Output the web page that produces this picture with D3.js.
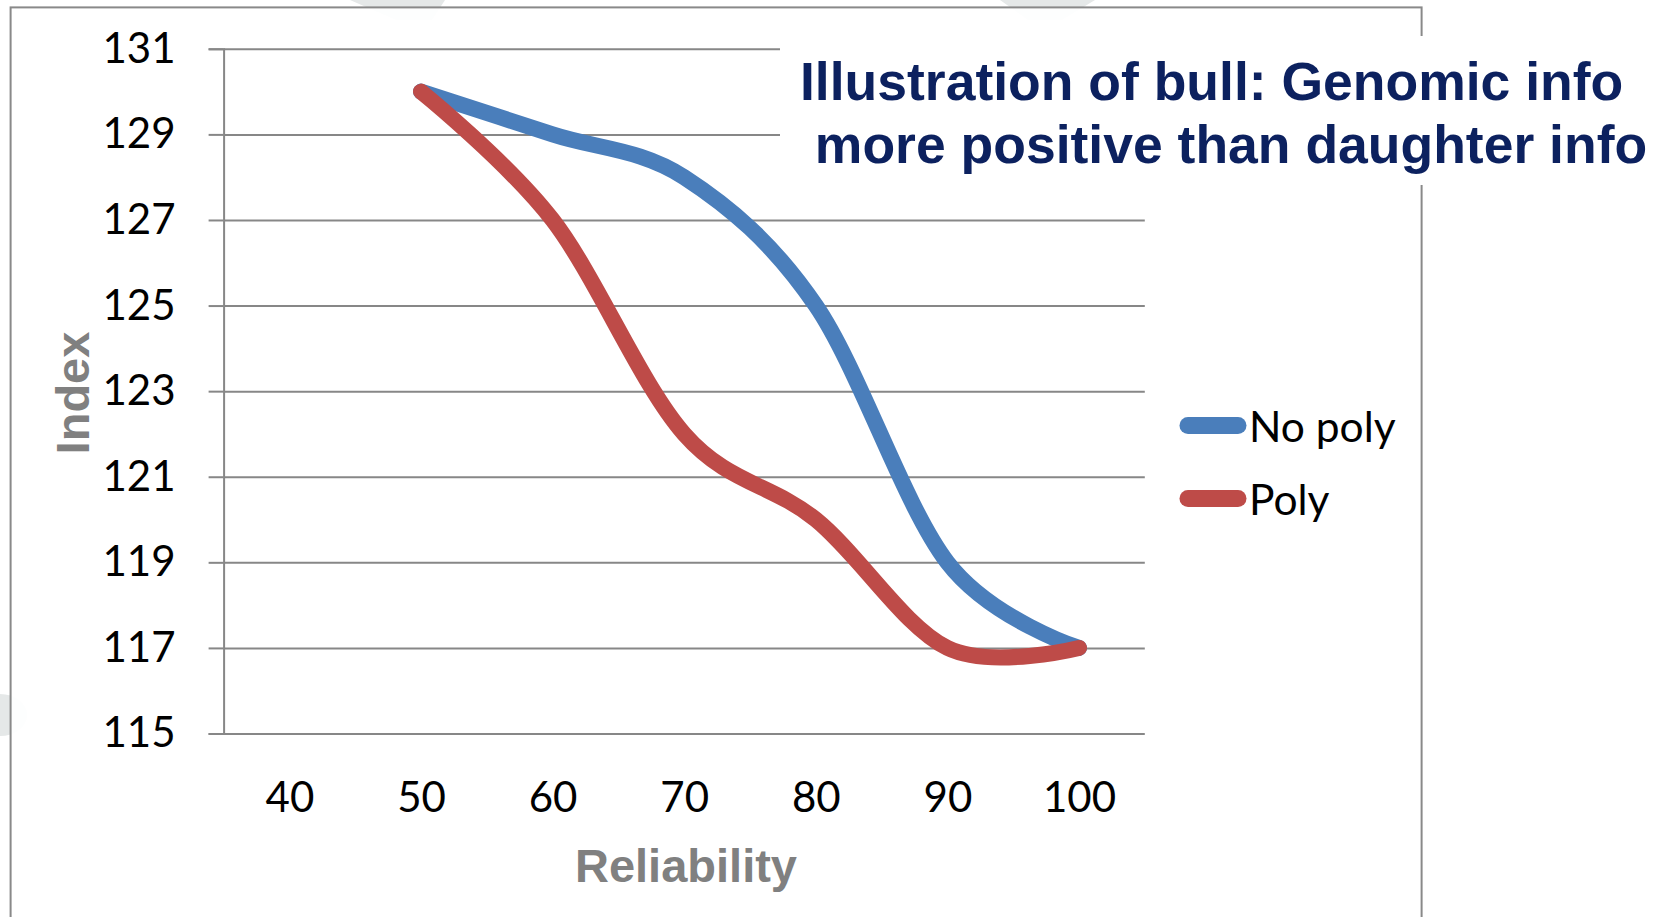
<!DOCTYPE html>
<html>
<head>
<meta charset="utf-8">
<script src="https://cdn.jsdelivr.net/npm/d3@7/dist/d3.min.js"></script>
<style>
  html, body { margin: 0; padding: 0; background: #ffffff; }
  svg { display: block; }
</style>
</head>
<body>
<svg id="chart" width="1662" height="917"></svg>
<script>
// Reliability categories on the x axis (40 carries no data)
const categories = ["40", "50", "60", "70", "80", "90", "100"];
// Index values per series, one per category from 50 to 100
const seriesNames = ["No poly", "Poly"];
const noPolyValues = [null, 130, 129, 128, 125, 119, 117];
const polyValues   = [null, 130, 127, 122, 120, 117, 117];
const yTicks = [115, 117, 119, 121, 123, 125, 127, 129, 131];
const titleLines = ["Illustration of bull: Genomic info", " more positive than daughter info"];
const seriesColors = ["#4a7ebb", "#be4b48"];

const svg = d3.select("#chart");
const W = 1662, H = 917;

const plot = { left: 223.6, right: 1144.8, top: 48.8, bottom: 733.5 };

const x = d3.scalePoint().domain(categories).range([plot.left, plot.right]).padding(0.5);
const y = d3.scaleLinear().domain([115, 131]).range([plot.bottom, plot.top]);

// faint background marks of the slide
const wm = svg.append("g").attr("fill", "#e5e8e8");
wm.append("path").attr("d", "M350,0 L445,0 L432,20 L396,20 Z");
wm.append("path").attr("d", "M1000,0 L1095,0 L1062,20 L1028,20 Z");
wm.append("path").attr("d", "M0,694 A26,20 0 0 1 0,736 Z");

// chart frame
svg.append("rect")
  .attr("x", 10.6).attr("y", 7.4)
  .attr("width", 1411).attr("height", 1000)
  .attr("fill", "#ffffff").attr("fill-opacity", 0.92)
  .attr("stroke", "#898989").attr("stroke-width", 2);

// horizontal gridlines
svg.append("g")
  .attr("transform", `translate(${plot.left},0)`)
  .call(d3.axisLeft(y).tickValues(yTicks).tickSize(-(plot.right - plot.left)).tickFormat(""))
  .call(g => g.select(".domain").remove())
  .call(g => g.selectAll(".tick line").attr("stroke", "#878787").attr("stroke-width", 2));

// y axis with ticks and labels
svg.append("g")
  .attr("transform", `translate(${plot.left},0)`)
  .call(d3.axisLeft(y).tickValues(yTicks).tickSize(15).tickPadding(33))
  .call(g => g.select(".domain").attr("stroke", "#878787").attr("stroke-width", 2))
  .call(g => g.selectAll(".tick line").attr("stroke", "#878787").attr("stroke-width", 2))
  .call(g => g.selectAll(".tick text")
    .attr("fill", "#000").attr("font-family", "Lato, 'Open Sans', sans-serif")
    .attr("font-size", 42));

// x axis labels (no tick marks)
svg.append("g")
  .attr("transform", `translate(0,${plot.bottom})`)
  .call(d3.axisBottom(x).tickSize(0).tickPadding(49))
  .call(g => g.select(".domain").remove())
  .call(g => g.selectAll(".tick text")
    .attr("fill", "#000").attr("font-family", "Lato, 'Open Sans', sans-serif")
    .attr("font-size", 42));

// axis titles
svg.append("text")
  .attr("x", 686).attr("y", 882)
  .attr("text-anchor", "middle")
  .attr("font-family", "'Liberation Sans', Arial, sans-serif")
  .attr("font-weight", "bold").attr("font-size", 47)
  .attr("fill", "#808080")
  .text("Reliability");

svg.append("text")
  .attr("transform", "translate(89,393) rotate(-90)")
  .attr("text-anchor", "middle")
  .attr("font-family", "'Liberation Sans', Arial, sans-serif")
  .attr("font-weight", "bold").attr("font-size", 47)
  .attr("fill", "#808080")
  .text("Index");

// smoothed series lines
const seriesValues = [noPolyValues, polyValues];
const line = d3.line()
  .defined(d => d.v !== null)
  .x(d => x(d.c))
  .y(d => y(d.v))
  .curve(d3.curveCardinal.tension(0));

seriesValues.forEach((vals, i) => {
  const pts = categories.map((c, k) => ({ c, v: vals[k] })).filter(d => d.v !== null);
  svg.append("path")
    .datum(pts)
    .attr("d", line)
    .attr("fill", "none")
    .attr("stroke", seriesColors[i])
    .attr("stroke-width", 16)
    .attr("stroke-linecap", "round")
    .attr("stroke-linejoin", "round");
});

// legend
const legendY = [425.5, 498.6];
seriesNames.forEach((name, i) => {
  svg.append("line")
    .attr("x1", 1188).attr("x2", 1238)
    .attr("y1", legendY[i]).attr("y2", legendY[i])
    .attr("stroke", seriesColors[i])
    .attr("stroke-width", 17)
    .attr("stroke-linecap", "round");
  svg.append("text")
    .attr("x", 1249).attr("y", legendY[i] + 16.5)
    .attr("font-family", "Lato, 'Open Sans', sans-serif")
    .attr("font-size", 42.5)
    .attr("fill", "#000")
    .text(name);
});

// title block with its own white background
svg.append("rect")
  .attr("x", 780).attr("y", 36)
  .attr("width", W - 780).attr("height", 149)
  .attr("fill", "#ffffff");

const title = svg.append("text")
  .attr("font-family", "'Liberation Sans', Arial, sans-serif")
  .attr("font-weight", "bold").attr("font-size", 53.5)
  .attr("fill", "#0c215f")
  .attr("xml:space", "preserve")
  .style("white-space", "pre");
titleLines.forEach((t, i) => {
  title.append("tspan")
    .attr("x", 800).attr("y", 100 + i * 63)
    .text(t);
});
</script>
</body>
</html>
